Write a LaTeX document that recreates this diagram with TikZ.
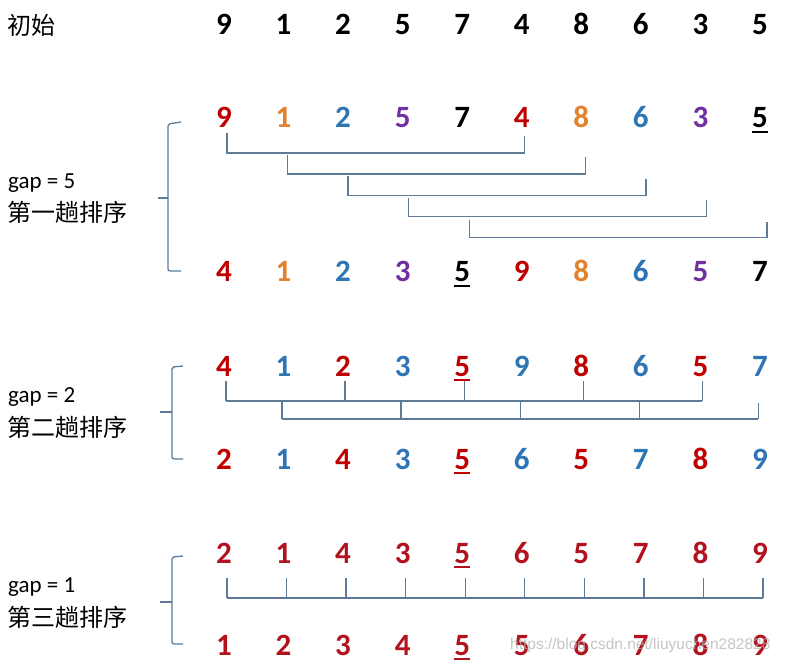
\documentclass[tikz,border=0pt]{standalone}
\usepackage{fontspec}
\setmainfont{Carlito}[Numbers=Lining]
\newfontfamily\cjk{Noto Sans CJK SC}
\newfontfamily\wmfont{Liberation Sans}
\definecolor{cR}{HTML}{C00000}
\definecolor{cO}{HTML}{E2822C}
\definecolor{cB}{HTML}{2E75B6}
\definecolor{cP}{HTML}{7030A0}
\definecolor{cK}{HTML}{000000}
\definecolor{cD}{HTML}{B2121E}
\definecolor{lineC}{HTML}{5D7B99}
\newcommand\unum[1]{\setbox0=\hbox{#1}\rlap{\hbox to \wd0{\hss\smash{\raisebox{-5pt}{\rule{16pt}{2pt}}}\hss}}\box0}
\tikzset{
  num/.style={inner sep=0pt, anchor=base, font=\fontsize{31}{31}\selectfont\bfseries},
  lbl/.style={anchor=west, inner sep=0pt, font=\fontsize{23}{23}\selectfont},
  clbl/.style={anchor=west, inner sep=0pt, font=\cjk\fontsize{24}{24}\selectfont},
  br/.style={draw=lineC, line width=1.4pt},
  brace/.style={draw=lineC, line width=1.3pt, rounded corners=2pt}
}
\begin{document}
\begin{tikzpicture}[x=1pt,y=-1pt]
\useasboundingbox (0,0) rectangle (785,663);
\fill[white] (0,0) rectangle (785,663);

% labels
\node[clbl] (init) at (7,25) {初始};
\node[lbl] (g5) at (8,183) {gap = 5};
\node[clbl] (g5c) at (7,212) {第一趟排序};
\node[lbl] (g2) at (8,397) {gap = 2};
\node[clbl] (g2c) at (7,427) {第二趟排序};
\node[lbl] (g1) at (8,587) {gap = 1};
\node[clbl] (g1c) at (7,617) {第三趟排序};

% rows of numbers (base line = centre + 10)
\foreach \d/\c/\u [count=\i from 0] in {9/cK/0,1/cK/0,2/cK/0,5/cK/0,7/cK/0,4/cK/0,8/cK/0,6/cK/0,3/cK/0,5/cK/0}
  \node[num,text=\c] (r0c\i) at ({224+59.55*\i},35) {\ifnum\u=1 \unum{\d}\else\d\fi};
\foreach \d/\c/\u [count=\i from 0] in {9/cR/0,1/cO/0,2/cB/0,5/cP/0,7/cK/0,4/cR/0,8/cO/0,6/cB/0,3/cP/0,5/cK/1}
  \node[num,text=\c] (r1c\i) at ({224+59.55*\i},128) {\ifnum\u=1 \unum{\d}\else\d\fi};
\foreach \d/\c/\u [count=\i from 0] in {4/cR/0,1/cO/0,2/cB/0,3/cP/0,5/cK/1,9/cR/0,8/cO/0,6/cB/0,5/cP/0,7/cK/0}
  \node[num,text=\c] (r2c\i) at ({224+59.55*\i},282) {\ifnum\u=1 \unum{\d}\else\d\fi};
\foreach \d/\c/\u [count=\i from 0] in {4/cR/0,1/cB/0,2/cR/0,3/cB/0,5/cR/1,9/cB/0,8/cR/0,6/cB/0,5/cR/0,7/cB/0}
  \node[num,text=\c] (r3c\i) at ({224+59.55*\i},376) {\ifnum\u=1 \unum{\d}\else\d\fi};
\foreach \d/\c/\u [count=\i from 0] in {2/cR/0,1/cB/0,4/cR/0,3/cB/0,5/cR/1,6/cB/0,5/cR/0,7/cB/0,8/cR/0,9/cB/0}
  \node[num,text=\c] (r4c\i) at ({224+59.55*\i},469) {\ifnum\u=1 \unum{\d}\else\d\fi};
\foreach \d/\c/\u [count=\i from 0] in {2/cD/0,1/cD/0,4/cD/0,3/cD/0,5/cD/1,6/cD/0,5/cD/0,7/cD/0,8/cD/0,9/cD/0}
  \node[num,text=\c] (r5c\i) at ({224+59.55*\i},563) {\ifnum\u=1 \unum{\d}\else\d\fi};
\foreach \d/\c/\u [count=\i from 0] in {1/cD/0,2/cD/0,3/cD/0,4/cD/0,5/cD/1,5/cD/0,6/cD/0,7/cD/0,8/cD/0,9/cD/0}
  \node[num,text=\c] (r6c\i) at ({224+59.55*\i},655) {\ifnum\u=1 \unum{\d}\else\d\fi};

% braces
\draw[brace] (181,122) -- (168,124) -- (168,271) -- (181,271);
\draw[br] (168,198) -- (158,198);
\draw[brace] (183,366) -- (172,367) -- (172,459) -- (183,459);
\draw[br] (172,412) -- (160,412);
\draw[brace] (183,556) -- (172,557) -- (172,644) -- (183,644);
\draw[br] (172,602) -- (160,602);

% gap 5 pairs
\foreach \k in {0,...,4} {
  \pgfmathsetmacro\xl{224+59.55*\k+3+\k}
  \pgfmathsetmacro\xr{224+59.55*(\k+5)+3+\k}
  \pgfmathsetmacro\yh{153+21.2*\k}
  \pgfmathsetmacro\ytl{133+21.7*\k}
  \pgfmathsetmacro\ytr{136+21.5*\k}
  \draw[br] (\xl,\ytl) -- (\xl,\yh) -- (\xr,\yh) -- (\xr,\ytr);
}

% gap 2 groups
\draw[br] ({224+2},401) -- ({224+59.55*8+2},401);
\foreach \k in {0,2,4,6,8}
  \draw[br] ({224+59.55*\k+2},381) -- ({224+59.55*\k+2},401);
\draw[br] ({224+59.55-1.5},419) -- ({224+59.55*9-1.5},419);
\foreach \k in {1,3,5,7}
  \draw[br] ({224+59.55*\k-1.5},401) -- ({224+59.55*\k-1.5},419);
\draw[br] ({224+59.55*9-1.5},403) -- ({224+59.55*9-1.5},419);

% gap 1
\draw[br] ({224+3},598) -- ({224+59.55*9+3},598);
\foreach \k in {0,...,9}
  \draw[br] ({224+59.55*\k+3},578) -- ({224+59.55*\k+3},598);

% watermark
\node[anchor=west, inner sep=0pt, text=gray!60, opacity=0.75, font=\wmfont\fontsize{15.5}{15.5}\selectfont] (wm) at (510,645) {https://blog.csdn.net/liuyuchen282828};
\end{tikzpicture}
\end{document}
